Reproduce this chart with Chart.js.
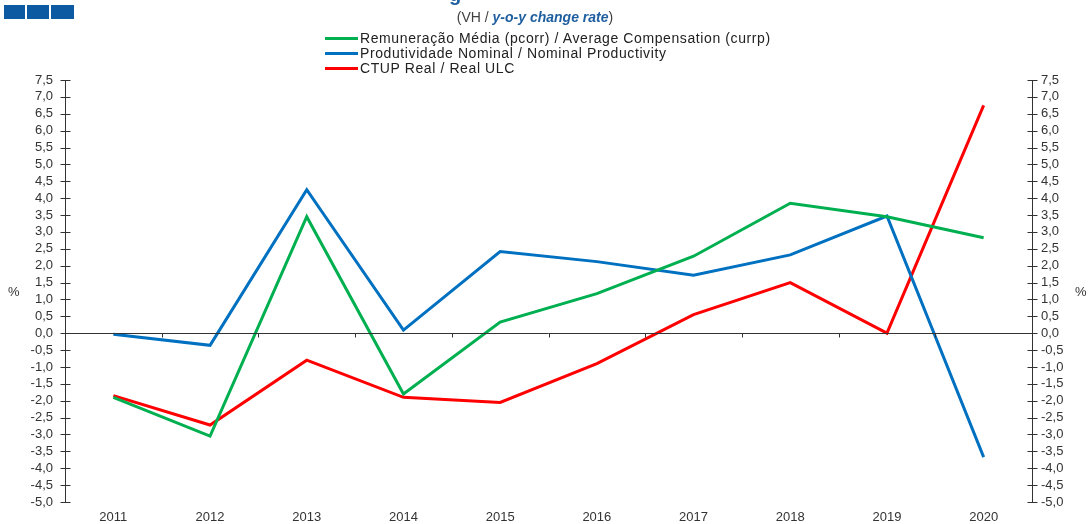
<!DOCTYPE html>
<html>
<head>
<meta charset="utf-8">
<script src="https://cdn.jsdelivr.net/npm/chart.js@4/dist/chart.umd.min.js"></script>
<style>
  html, body { margin: 0; padding: 0; background: #fff; }
  #wrap { position: relative; width: 1089px; height: 524px; overflow: hidden; font-family: "Liberation Sans", Arial, sans-serif; }
  canvas { position: absolute; left: 0; top: 0; }
  .sq { position: absolute; top: 5px; height: 14px; background: #0B5AA2; }
  #ttl { position: absolute; left: 449px; top: -17px; font: bold 20px "Liberation Sans", Arial, sans-serif; color: #1F5FA0; }
  #sub { position: absolute; left: 0; width: 1070px; top: 9px; text-align: center; font-size: 14px; color: #404040; }
  #sub b { color: #1F5FA0; font-style: italic; }
  #legend { position: absolute; left: 325px; top: 31px; font-size: 14px; letter-spacing: 0.6px; color: #222; }
  #legend div { height: 15px; line-height: 15px; white-space: nowrap; }
  #legend span.ln { display: inline-block; width: 33px; height: 3px; vertical-align: middle; margin-right: 2px; position: relative; top: -1px; }
  .pct { position: absolute; top: 284px; font-size: 13px; color: #333; }
</style>
</head>
<body>
<div id="wrap">
  <canvas id="c" width="1089" height="524"></canvas>
  <div class="sq" style="left:4px;width:21px"></div>
  <div class="sq" style="left:27px;width:22px"></div>
  <div class="sq" style="left:51px;width:23px"></div>
  <div id="ttl">g</div>
  <div id="sub">(VH / <b>y-o-y change rate</b>)</div>
  <div id="legend"></div>
  <div class="pct" style="left:8px">%</div>
  <div class="pct" style="left:1075px">%</div>
</div>
<script>
const categories = ['2011','2012','2013','2014','2015','2016','2017','2018','2019','2020'];
const seriesNames = [
  'Remuneração Média (pcorr) / Average Compensation (currp)',
  'Produtividade Nominal / Nominal Productivity',
  'CTUP Real / Real ULC'
];
const compensation = [-1.9, -3.05, 3.45, -1.8, 0.33, 1.17, 2.28, 3.85, 3.45, 2.83];
const productivity = [-0.03, -0.36, 4.25, 0.09, 2.42, 2.12, 1.72, 2.32, 3.47, -3.67];
const realULC      = [-1.85, -2.72, -0.8, -1.9, -2.05, -0.9, 0.55, 1.5, 0.0, 6.75];
const seriesColors = ['#00B050', '#0070C0', '#FF0000'];
const yMin = -5, yMax = 7.5, yStep = 0.5;

const leg = document.getElementById('legend');
seriesNames.forEach((n, i) => {
  const d = document.createElement('div');
  const s = document.createElement('span'); s.className = 'ln'; s.style.background = seriesColors[i];
  d.appendChild(s); d.appendChild(document.createTextNode(n));
  leg.appendChild(d);
});

const fmt = v => Number(v).toFixed(1).replace('.', ',');
const AXC = '#333';

const crossTicks = {
  id: 'crossTicks',
  afterDatasetsDraw(chart) {
    const ctx = chart.ctx, ca = chart.chartArea;
    const yl = chart.scales.y, yr = chart.scales.y2, x = chart.scales.x;
    ctx.save();
    ctx.strokeStyle = AXC; ctx.lineWidth = 1;
    const top = yl.getPixelForValue(yMax), bot = yl.getPixelForValue(yMin);
    [[ca.left, yl], [ca.right, yr]].forEach(([ax, sc]) => {
      const xx = Math.round(ax) + 0.5;
      ctx.beginPath(); ctx.moveTo(xx, top); ctx.lineTo(xx, bot); ctx.stroke();
      sc.ticks.forEach(t => {
        const yy = Math.round(sc.getPixelForValue(t.value)) + 0.5;
        ctx.beginPath(); ctx.moveTo(xx - 5, yy); ctx.lineTo(xx + 5, yy); ctx.stroke();
      });
    });
    const y0 = Math.round(yl.getPixelForValue(0)) + 0.5;
    ctx.beginPath(); ctx.moveTo(ca.left, y0); ctx.lineTo(ca.right, y0); ctx.stroke();
    for (let i = 1; i < categories.length; i++) {
      const bx = Math.round((x.getPixelForValue(i - 1) + x.getPixelForValue(i)) / 2) + 0.5;
      ctx.beginPath(); ctx.moveTo(bx, y0); ctx.lineTo(bx, y0 + 4); ctx.stroke();
    }
    ctx.restore();
  }
};

new Chart(document.getElementById('c'), {
  type: 'line',
  data: {
    labels: categories,
    datasets: [compensation, productivity, realULC].map((d, i) => ({
      label: seriesNames[i], data: d, borderColor: seriesColors[i], backgroundColor: seriesColors[i],
      borderWidth: 3, pointRadius: 0, tension: 0, yAxisID: 'y'
    }))
  },
  options: {
    responsive: false, animation: false,
    layout: { padding: { top: 80, bottom: 0, left: 0, right: 0 } },
    plugins: { legend: { display: false }, tooltip: { enabled: false } },
    scales: {
      x: {
        offset: true,
        afterFit: s => { s.height = 22; },
        grid: { display: false, drawTicks: false },
        border: { display: false },
        ticks: { padding: 8, color: '#333', font: { size: 13, family: 'Liberation Sans' }, maxRotation: 0, autoSkip: false }
      },
      y: {
        position: 'left', min: yMin, max: yMax,
        afterFit: s => { s.width = 65; },
        grid: { display: false, drawTicks: false },
        border: { display: false },
        ticks: { stepSize: yStep, autoSkip: false, padding: 12, color: '#333', font: { size: 13, family: 'Liberation Sans' }, callback: fmt }
      },
      y2: {
        position: 'right', min: yMin, max: yMax,
        afterFit: s => { s.width = 57; },
        grid: { display: false, drawTicks: false },
        border: { display: false },
        ticks: { stepSize: yStep, autoSkip: false, padding: 9, color: '#333', font: { size: 13, family: 'Liberation Sans' }, callback: fmt }
      }
    }
  },
  plugins: [crossTicks]
});
</script>
</body>
</html>
